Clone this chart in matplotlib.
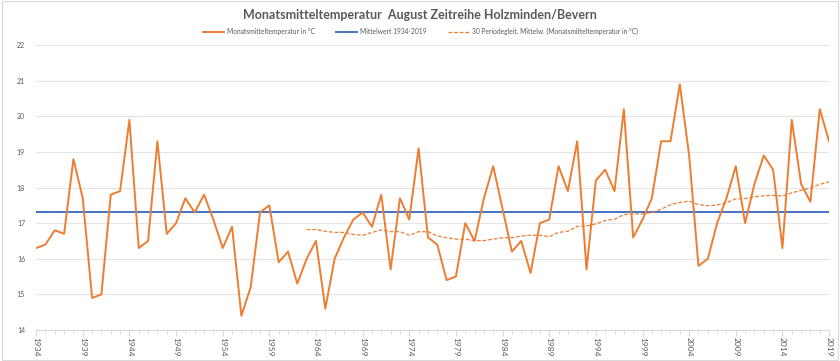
import matplotlib.pyplot as plt
from matplotlib.ticker import MultipleLocator

plt.rcParams['font.family'] = ['Lato', 'DejaVu Sans']

years = list(range(1934, 2020))
temps = [16.3, 16.4, 16.8, 16.7, 18.8, 17.7, 14.9, 15.0, 17.8, 17.9,
         19.9, 16.3, 16.5, 19.3, 16.7, 17.0, 17.7, 17.3, 17.8, 17.1,
         16.3, 16.9, 14.4, 15.2, 17.3, 17.5, 15.9, 16.2, 15.3, 16.0,
         16.5, 14.6, 16.0, 16.6, 17.1, 17.3, 16.9, 17.8, 15.7, 17.7,
         17.1, 19.1, 16.6, 16.4, 15.4, 15.5, 17.0, 16.5, 17.7, 18.6,
         17.4, 16.2, 16.5, 15.6, 17.0, 17.1, 18.6, 17.9, 19.3, 15.7,
         18.2, 18.5, 17.9, 20.2, 16.6, 17.1, 17.7, 19.3, 19.3, 20.9,
         18.9, 15.8, 16.0, 17.0, 17.7, 18.6, 17.0, 18.1, 18.9, 18.5,
         16.3, 19.9, 18.1, 17.6, 20.2, 19.3]
mean_value = 17.3

ma_years = list(range(1963, 2020))
ma_values = [16.82, 16.82, 16.77, 16.74, 16.74, 16.68, 16.66, 16.74, 16.81, 16.76,
             16.76, 16.66, 16.76, 16.76, 16.64, 16.59, 16.55, 16.55, 16.51, 16.51,
             16.55, 16.59, 16.59, 16.64, 16.66, 16.66, 16.62, 16.74, 16.77, 16.91,
             16.92, 16.98, 17.07, 17.11, 17.24, 17.26, 17.26, 17.30, 17.39, 17.52,
             17.58, 17.62, 17.52, 17.49, 17.51, 17.58, 17.68, 17.69, 17.74, 17.77,
             17.78, 17.76, 17.85, 17.92, 17.99, 18.09, 18.16]

orange = '#ED7D31'
blue = '#4472C4'
grey = '#595959'

fig = plt.figure(figsize=(8.4, 3.61), dpi=100)
ax = fig.add_axes([0.043, 0.086, 0.944, 0.789])

ax.plot(years, temps, color=orange, lw=1.4, label='Monatsmitteltemperatur in °C', zorder=3)
ax.plot([years[0], years[-1]], [mean_value, mean_value], color=blue, lw=1.4,
        label='Mittelwert 1934-2019', zorder=2)
ax.plot(ma_years, ma_values, color=orange, lw=0.9, ls=(0, (3, 1.5)),
        label='30 Periodegleit. Mittelw. (Monatsmitteltemperatur in °C)', zorder=2)

ax.set_xlim(1934, 2019)
ax.set_ylim(14, 22)
ax.yaxis.set_major_locator(MultipleLocator(1))
ax.set_xticks(list(range(1934, 2020, 5)))
ax.set_xticks(years, minor=True)
ax.grid(axis='y', color='#E4E4E4', lw=0.8)
ax.set_axisbelow(True)
for s in ['top', 'right', 'left']:
    ax.spines[s].set_visible(False)
ax.spines['bottom'].set_color('#D9D9D9')
ax.tick_params(axis='y', length=0, labelsize=5, labelcolor=grey, pad=8)
ax.tick_params(axis='x', which='major', length=4, color='#D9D9D9', labelsize=6,
               labelcolor=grey, labelrotation=-90, pad=1)
ax.tick_params(axis='x', which='minor', length=3, color='#D9D9D9')

fig.suptitle('Monatsmitteltemperatur  August Zeitreihe Holzminden/Bevern', y=0.975,
             fontsize=9, fontweight='bold', color=grey)
fig.legend(loc='center', bbox_to_anchor=(0.5, 0.913), ncol=3, frameon=False,
           fontsize=4.8, labelcolor=grey, handlelength=3.2, handletextpad=0.4,
           columnspacing=3.2)

fig.patches.append(plt.Rectangle((0.002, 0.003), 0.996, 0.994, transform=fig.transFigure,
                                 fill=False, ec='#D9D9D9', lw=0.8))

fig.savefig('out.png', dpi=100)
